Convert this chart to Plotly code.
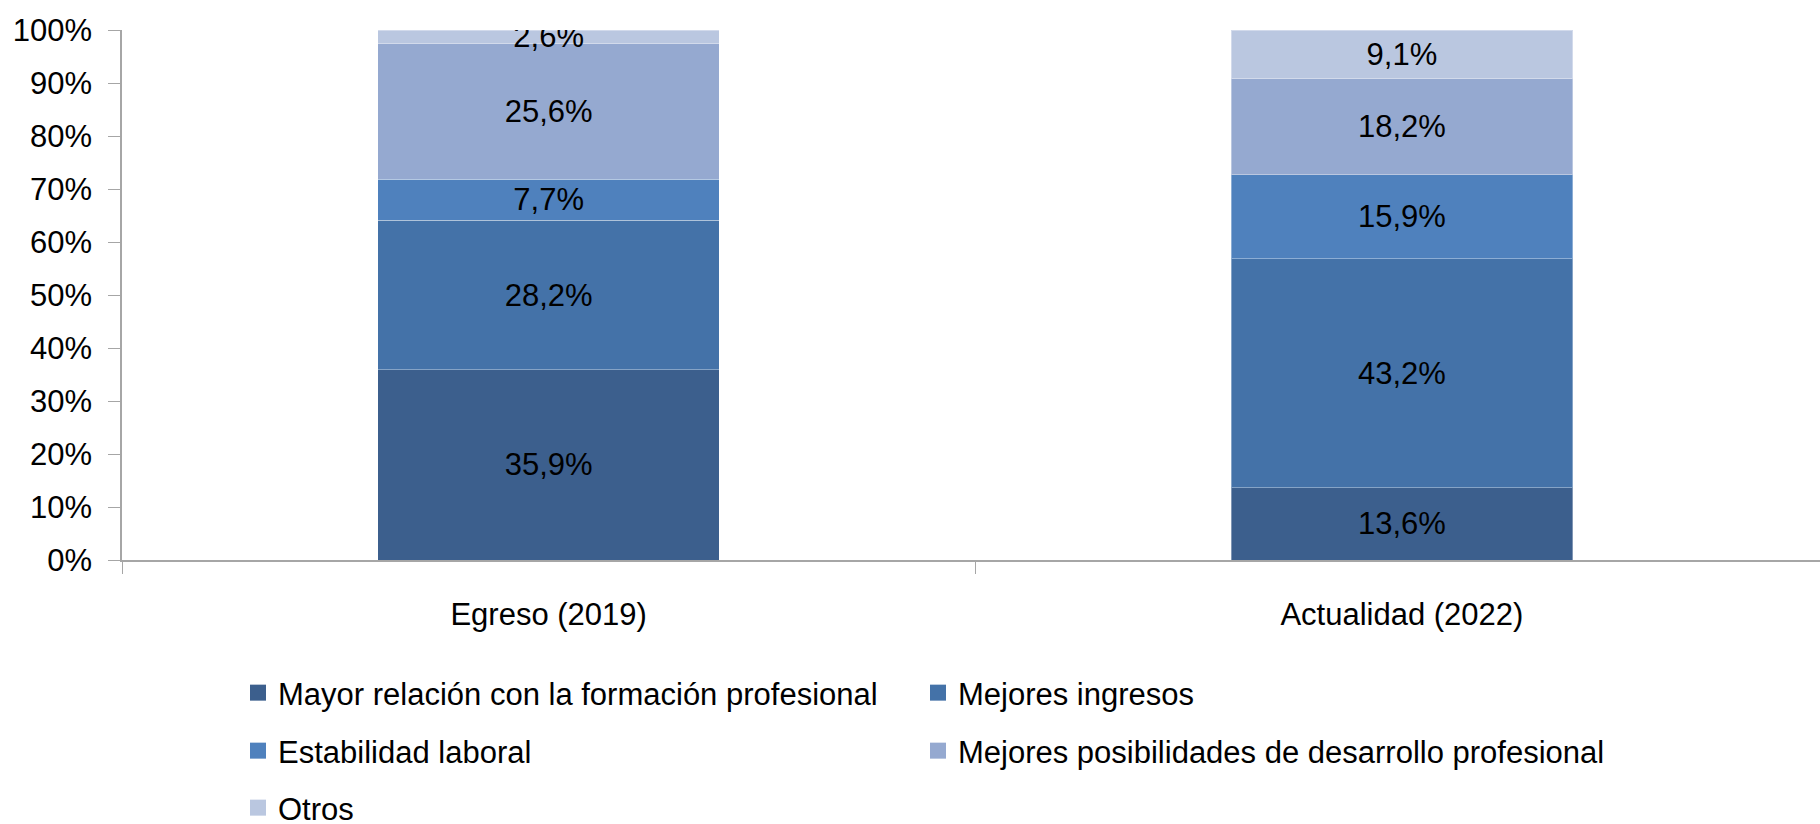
import plotly.graph_objects as go

# Categories and stacked shares (percent)
periods = ["Egreso (2019)", "Actualidad (2022)"]
series_names = [
    "Mayor relación con la formación profesional",
    "Mejores ingresos",
    "Estabilidad laboral",
    "Mejores posibilidades de desarrollo profesional",
    "Otros",
]
mayor_relacion = [35.9, 13.6]
mejores_ingresos = [28.2, 43.2]
estabilidad = [7.7, 15.9]
desarrollo = [25.6, 18.2]
otros = [2.6, 9.1]
series_values = [mayor_relacion, mejores_ingresos, estabilidad, desarrollo, otros]

y_ticks = [0, 10, 20, 30, 40, 50, 60, 70, 80, 90, 100]
y_tick_labels = [f"{t}%" for t in y_ticks]

colors = ["#3C5F8D", "#4472A8", "#4F81BD", "#95A9D0", "#BAC7E0"]

FONT = "Liberation Sans, Arial, sans-serif"
FS = 31
W, H = 1820, 824

fig = go.Figure()

for name, vals, col in zip(series_names, series_values, colors):
    fig.add_trace(go.Bar(
        x=periods, y=vals, name=name,
        marker=dict(color=col, line=dict(color="rgba(255,255,255,0.35)", width=1)),
        texttemplate="%{y:.1f}%",
        textposition="inside",
        insidetextanchor="middle",
        textangle=0,
        constraintext="none",
        textfont=dict(family=FONT, size=FS, color="black"),
        showlegend=False,
        hoverinfo="skip",
    ))

# Legend: two columns, three rows; one legend box per entry
legend_ids = ["legend", "legend2", "legend3", "legend4", "legend5"]
col_x = [238, 918]          # left edge of each legend column (px)
row_y = [693, 751, 808]     # vertical centre of each legend row (px)

legend_layout = {}
for i, (name, col, lg) in enumerate(zip(series_names, colors, legend_ids)):
    fig.add_trace(go.Scatter(
        x=[None], y=[None], mode="markers", name=name, legend=lg,
        marker=dict(symbol="square", size=19, color=col),
    ))
    legend_layout[lg] = dict(
        orientation="h",
        xref="container", yref="container",
        x=col_x[i % 2] / W, y=1 - row_y[i // 2] / H,
        xanchor="left", yanchor="middle",
        font=dict(family=FONT, size=FS, color="black"),
        itemsizing="trace",
        bgcolor="rgba(0,0,0,0)",
    )

fig.update_layout(
    width=W, height=H,
    barmode="stack",
    bargap=0.6,
    separators=",.",
    plot_bgcolor="white",
    paper_bgcolor="white",
    font=dict(family=FONT, size=FS, color="black"),
    margin=dict(l=122, r=0, t=30, b=264),
    uniformtext=dict(minsize=FS, mode="show"),
    **legend_layout,
)

fig.update_xaxes(
    range=[-0.5, 1.49],
    showline=True, linecolor="#A6A6A6", linewidth=1.5,
    ticks="outside", tickson="boundaries", ticklen=12, tickcolor="#A6A6A6", tickwidth=1,
    ticklabelstandoff=26,
    tickfont=dict(family=FONT, size=FS, color="black"),
    showgrid=False, zeroline=False,
)
fig.update_yaxes(
    range=[0, 100],
    tickmode="array", tickvals=y_ticks, ticktext=y_tick_labels,
    showline=True, linecolor="#A6A6A6", linewidth=1.5,
    ticks="outside", ticklen=12, tickcolor="#A6A6A6", tickwidth=1,
    ticklabelstandoff=10,
    tickfont=dict(family=FONT, size=FS, color="black"),
    showgrid=False, zeroline=False,
)

fig.write_html("out.html")
